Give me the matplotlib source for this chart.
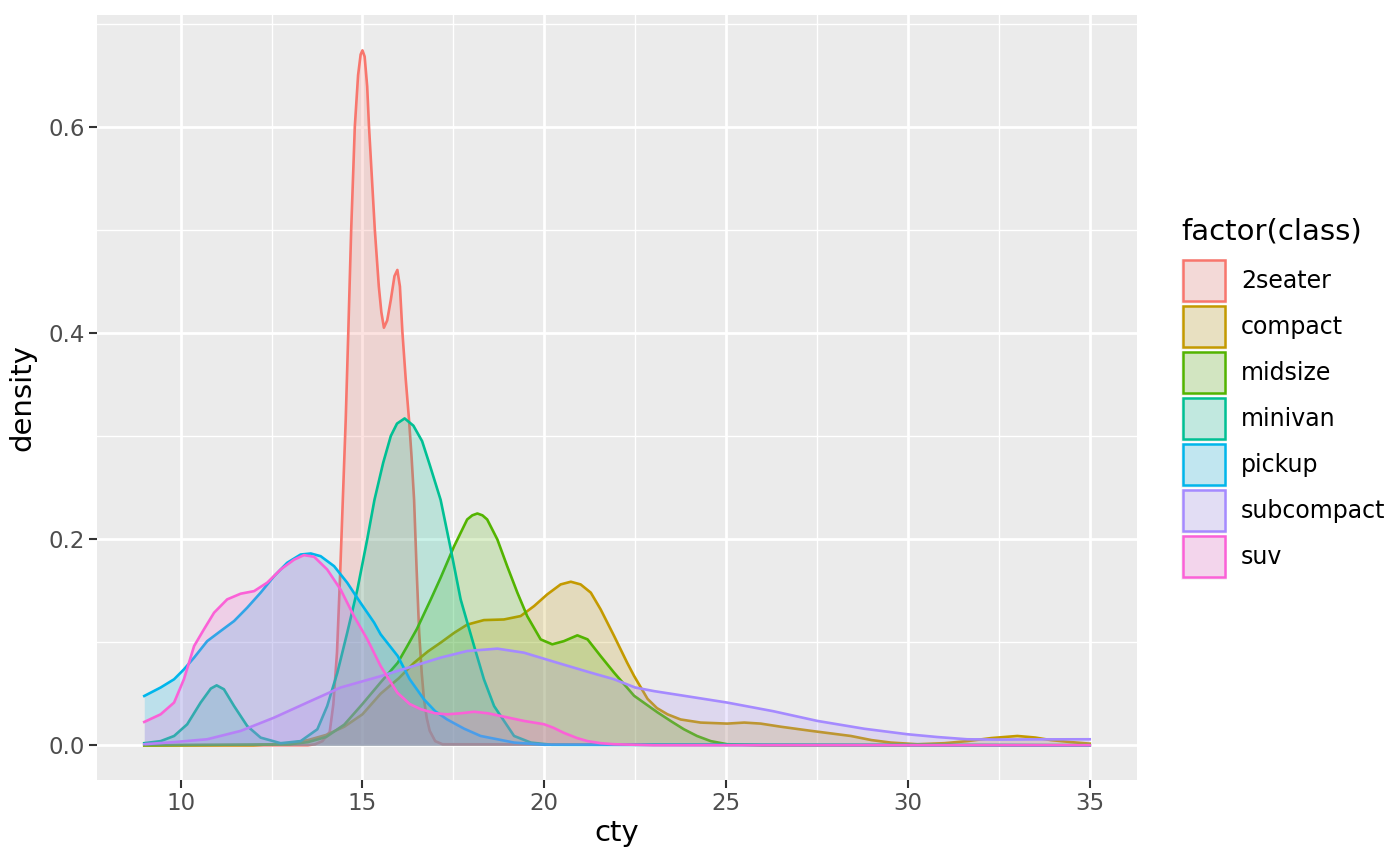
import matplotlib.pyplot as plt
from matplotlib.patches import Rectangle
from matplotlib.ticker import MultipleLocator

# density curves (cty, density) per class
classes = ['2seater', 'compact', 'midsize', 'minivan', 'pickup', 'subcompact', 'suv']
colors = ['#F8766D', '#C49A00', '#53B400', '#00C094', '#00B6EB', '#A58AFF', '#FB61D7']

x_2seater = [9, 13.5, 13.7, 13.9, 14.1, 14.2, 14.3, 14.38, 14.46, 14.54, 14.61, 14.69, 14.79, 14.88,
             14.95, 15.0, 15.06, 15.13, 15.18, 15.26, 15.34, 15.45, 15.52, 15.59, 15.68, 15.78,
             15.88, 15.96, 16.03, 16.1, 16.19, 16.28, 16.35, 16.42, 16.49, 16.56, 16.63, 16.69,
             16.77, 16.85, 17.0, 17.2, 35]
y_2seater = [0, 0, 0.001, 0.004, 0.013, 0.04, 0.09, 0.16, 0.238, 0.316, 0.40, 0.50, 0.60, 0.65,
             0.67, 0.674, 0.668, 0.639, 0.60, 0.55, 0.50, 0.445, 0.42, 0.405, 0.412, 0.432,
             0.455, 0.461, 0.445, 0.40, 0.355, 0.316, 0.28, 0.238, 0.17, 0.109, 0.07, 0.045,
             0.026, 0.014, 0.004, 0.001, 0]

x_compact = [9, 12, 13, 13.5, 14, 14.5, 15, 15.5, 16, 16.42, 16.8, 17.15, 17.52, 17.88, 18.34,
             18.89, 19.35, 19.72, 20.08, 20.45, 20.73, 21.0, 21.28, 21.55, 21.92, 22.28, 22.47,
             22.84, 23.1, 23.39, 23.75, 24.3, 25.03, 25.5, 25.95, 26.5, 27.33, 28.43, 29.0, 29.53,
             30.26, 31.0, 31.63, 32.3, 33.01, 33.5, 33.93, 34.5, 35]
y_compact = [0, 0, 0.002, 0.005, 0.01, 0.018, 0.03, 0.05, 0.065, 0.08, 0.091, 0.0995, 0.109, 0.117,
             0.1214, 0.122, 0.1253, 0.135, 0.1463, 0.156, 0.1586, 0.156, 0.148, 0.1318, 0.106,
             0.080, 0.0672, 0.045, 0.036, 0.030, 0.025, 0.022, 0.021, 0.022, 0.021, 0.018, 0.014,
             0.009, 0.005, 0.0026, 0.001, 0.002, 0.004, 0.007, 0.009, 0.0075, 0.005, 0.003, 0.0016]

x_midsize = [9, 13, 13.5, 14, 14.5, 15, 15.5, 15.97, 16.23, 16.5, 16.88, 17.15, 17.52, 17.88,
             18.02, 18.16, 18.3, 18.43, 18.71, 18.98, 19.26, 19.53, 19.90, 20.22, 20.54, 20.91,
             21.19, 21.55, 21.92, 22.47, 22.93, 23.11, 23.5, 23.84, 24.2, 24.58, 25.03, 26, 35]
y_midsize = [0, 0.001, 0.003, 0.008, 0.02, 0.04, 0.061, 0.08, 0.096, 0.113, 0.1415, 0.1625, 0.193,
             0.219, 0.223, 0.2248, 0.223, 0.219, 0.1996, 0.1737, 0.148, 0.1253, 0.1027, 0.0979,
             0.101, 0.1066, 0.1027, 0.0865, 0.0704, 0.048, 0.0365, 0.032, 0.023, 0.0155, 0.009,
             0.004, 0.001, 0, 0]

x_minivan = [9, 9.45, 9.82, 10.18, 10.55, 10.83, 10.99, 11.19, 11.47, 11.83, 12.20, 12.75, 13.30,
             13.76, 14.03, 14.31, 14.58, 14.86, 15.13, 15.33, 15.57, 15.78, 15.95, 16.16, 16.4,
             16.64, 16.85, 17.15, 17.43, 17.70, 18.07, 18.34, 18.62, 19.17, 19.63, 20.2, 35]
y_minivan = [0.002, 0.004, 0.009, 0.0203, 0.0414, 0.055, 0.0581, 0.0543, 0.038, 0.0187, 0.0074,
             0.002, 0.004, 0.0155, 0.038, 0.0704, 0.109, 0.151, 0.1996, 0.238, 0.274, 0.30, 0.312,
             0.317, 0.31, 0.295, 0.272, 0.238, 0.19, 0.1415, 0.0962, 0.064, 0.038, 0.009, 0.0026,
             0.0005, 0]

x_pickup = [9, 9.45, 9.82, 10.09, 10.37, 10.73, 11.10, 11.47, 11.83, 12.20, 12.57, 12.93, 13.30,
            13.58, 13.85, 14.22, 14.58, 14.95, 15.32, 15.50, 15.97, 16.3, 16.69, 17.0, 17.33, 17.8,
            18.25, 19.17, 20.0, 35]
y_pickup = [0.0478, 0.056, 0.064, 0.0736, 0.085, 0.101, 0.1108, 0.1205, 0.1334, 0.148, 0.164,
            0.177, 0.185, 0.186, 0.1834, 0.1737, 0.1577, 0.138, 0.119, 0.1076, 0.0865, 0.064,
            0.0446, 0.033, 0.025, 0.016, 0.009, 0.0026, 0.0005, 0]

x_subcompact = [9, 9.8, 10.73, 11.65, 12.57, 13.48, 14.40, 15.50, 16.42, 17.15, 17.88, 18.71,
                19.44, 20.36, 21.28, 21.92, 22.5, 23.02, 23.75, 25.03, 26.3, 27.51, 28.8, 29.98,
                30.8, 31.63, 32.5, 33.5, 35]
y_subcompact = [0.001, 0.003, 0.0058, 0.0139, 0.0268, 0.0414, 0.056, 0.067, 0.077, 0.085, 0.0914,
                0.0937, 0.0898, 0.080, 0.0704, 0.064, 0.056, 0.0525, 0.0485, 0.0414, 0.033, 0.0236,
                0.016, 0.0107, 0.008, 0.0058, 0.0055, 0.0057, 0.0058]

x_suv = [9, 9.45, 9.82, 10.09, 10.37, 10.64, 10.92, 11.28, 11.65, 12.02, 12.38, 12.75, 13.12, 13.39,
         13.67, 14.03, 14.40, 14.77, 15.13, 15.50, 15.96, 16.3, 16.6, 17.0, 17.33, 17.7, 18.07,
         18.45, 18.8, 19.44, 19.99, 20.25, 20.54, 20.9, 21.19, 21.55, 21.92, 23, 35]
y_suv = [0.0226, 0.030, 0.0414, 0.064, 0.0962, 0.1124, 0.1286, 0.1415, 0.147, 0.1495, 0.1577,
         0.1705, 0.180, 0.1844, 0.1828, 0.1705, 0.151, 0.125, 0.103, 0.0768, 0.051, 0.040, 0.035,
         0.031, 0.030, 0.031, 0.0325, 0.031, 0.0284, 0.0236, 0.0204, 0.017, 0.012, 0.007, 0.004,
         0.002, 0.001, 0, 0]

curves = [(x_2seater, y_2seater), (x_compact, y_compact), (x_midsize, y_midsize),
          (x_minivan, y_minivan), (x_pickup, y_pickup), (x_subcompact, y_subcompact),
          (x_suv, y_suv)]

fig = plt.figure(figsize=(14, 8.66), dpi=100)
ax = fig.add_axes([97/1400, 1-780/866, (1137-97)/1400, (780-15)/866])
ax.set_facecolor('#EBEBEB')

for (xs, ys), c in zip(curves, colors):
    ax.fill_between(xs, 0, ys, color=c, alpha=0.2, linewidth=0, zorder=3)
    ax.plot(xs, ys, color=c, lw=1.9, zorder=3, solid_joinstyle='round')

ax.set_xlim(7.7, 36.3)
ax.set_ylim(-0.0337, 0.7083)
ax.xaxis.set_minor_locator(MultipleLocator(2.5))
ax.yaxis.set_minor_locator(MultipleLocator(0.1))
ax.set_yticks([0, 0.2, 0.4, 0.6])
ax.set_yticklabels(['0.0', '0.2', '0.4', '0.6'])
ax.set_xticks([10, 15, 20, 25, 30, 35])
ax.grid(which='major', color='white', lw=2.0, zorder=0)
ax.grid(which='minor', color='white', lw=1.0, zorder=0)
ax.set_axisbelow(True)
for s in ax.spines.values():
    s.set_visible(False)
ax.tick_params(which='major', length=5.5, width=1.5, color='#333333', labelsize=16.5,
               labelcolor='#4D4D4D', pad=3)
ax.tick_params(which='minor', length=0)
ax.set_xlabel('cty', fontsize=21, labelpad=3)
ax.set_ylabel('density', fontsize=21, labelpad=9)

# legend drawn by hand to match ggplot's layout
fig.text(1181/1400, 1-231/866, 'factor(class)', fontsize=21, va='center', ha='left')
for i, (name, c) in enumerate(zip(classes, colors)):
    top = 258 + i*46
    fig.add_artist(Rectangle((1180/1400, 1-(top+46)/866), 47/1400, 46/866,
                             transform=fig.transFigure, facecolor='#F2F2F2', edgecolor='white', lw=1))
    fig.add_artist(Rectangle((1183/1400, 1-(top+43)/866), 42/1400, 41/866,
                             transform=fig.transFigure, facecolor=c, alpha=0.2, lw=0))
    fig.add_artist(Rectangle((1183/1400, 1-(top+43)/866), 42/1400, 41/866,
                             transform=fig.transFigure, facecolor='none', edgecolor=c, lw=1.8))
    fig.text(1241/1400, 1-(top+23)/866, name, fontsize=17, va='center', ha='left')

fig.savefig('out.png', dpi=100)
